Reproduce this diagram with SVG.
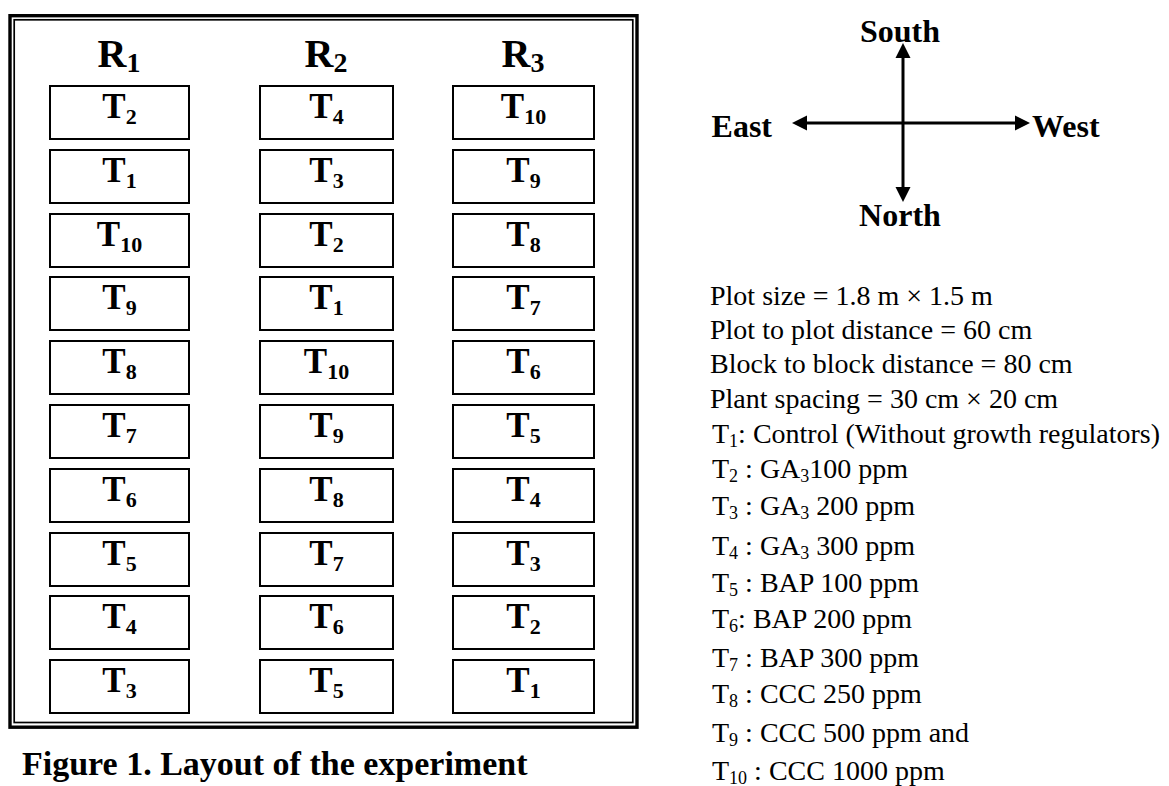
<svg xmlns="http://www.w3.org/2000/svg" width="1169" height="786" viewBox="0 0 1169 786">
<style>
text{font-family:"Liberation Serif","Times New Roman",serif;fill:#000}
.t{font-size:35px;font-weight:bold;text-anchor:middle}
.ts{font-size:22px}
.r{font-size:40px;font-weight:bold;text-anchor:middle}
.rs{font-size:28px}
.box{fill:#fff;stroke:#000;stroke-width:2}
.cap{font-size:34px;font-weight:bold}
.cmp{font-size:32px;font-weight:bold}
.lst{font-size:28px}
.ls{font-size:18px}
.ax{stroke:#000;stroke-width:3;fill:none}
</style>
<defs>
<marker id="ah" markerUnits="userSpaceOnUse" markerWidth="16" markerHeight="16" refX="0" refY="8" orient="auto-start-reverse"><path d="M0,0.5 L15,8 L0,15.5 Z" fill="#000"/></marker>
</defs>
<rect width="1169" height="786" fill="#fff"/>
<g id="frame">
<rect x="10" y="15.7" width="627" height="711.5" fill="none" stroke="#000" stroke-width="3.4"/>
<rect x="14.2" y="19.8" width="618.6" height="702.7" fill="none" stroke="#000" stroke-width="1.7"/>
</g>
<g id="headers">
<text class="r" x="119" y="67">R<tspan class="rs" dy="5">1</tspan></text>
<text class="r" x="326" y="67">R<tspan class="rs" dy="5">2</tspan></text>
<text class="r" x="523" y="67">R<tspan class="rs" dy="5">3</tspan></text>
</g>
<g id="col-R1">
<g id="r1-1"><rect class="box" x="50" y="86" width="139" height="53"/><text class="t" x="119.5" y="118">T<tspan class="ts" dy="6">2</tspan></text></g>
<g id="r1-2"><rect class="box" x="50" y="150" width="139" height="53"/><text class="t" x="119.5" y="182">T<tspan class="ts" dy="6">1</tspan></text></g>
<g id="r1-3"><rect class="box" x="50" y="214" width="139" height="53"/><text class="t" x="119.5" y="246">T<tspan class="ts" dy="6">10</tspan></text></g>
<g id="r1-4"><rect class="box" x="50" y="277" width="139" height="53"/><text class="t" x="119.5" y="309">T<tspan class="ts" dy="6">9</tspan></text></g>
<g id="r1-5"><rect class="box" x="50" y="341" width="139" height="53"/><text class="t" x="119.5" y="373">T<tspan class="ts" dy="6">8</tspan></text></g>
<g id="r1-6"><rect class="box" x="50" y="405" width="139" height="53"/><text class="t" x="119.5" y="437">T<tspan class="ts" dy="6">7</tspan></text></g>
<g id="r1-7"><rect class="box" x="50" y="469" width="139" height="53"/><text class="t" x="119.5" y="501">T<tspan class="ts" dy="6">6</tspan></text></g>
<g id="r1-8"><rect class="box" x="50" y="533" width="139" height="53"/><text class="t" x="119.5" y="565">T<tspan class="ts" dy="6">5</tspan></text></g>
<g id="r1-9"><rect class="box" x="50" y="596" width="139" height="53"/><text class="t" x="119.5" y="628">T<tspan class="ts" dy="6">4</tspan></text></g>
<g id="r1-10"><rect class="box" x="50" y="660" width="139" height="53"/><text class="t" x="119.5" y="692">T<tspan class="ts" dy="6">3</tspan></text></g>
</g>
<g id="col-R2">
<g id="r2-1"><rect class="box" x="260" y="86" width="133" height="53"/><text class="t" x="326.5" y="118">T<tspan class="ts" dy="6">4</tspan></text></g>
<g id="r2-2"><rect class="box" x="260" y="150" width="133" height="53"/><text class="t" x="326.5" y="182">T<tspan class="ts" dy="6">3</tspan></text></g>
<g id="r2-3"><rect class="box" x="260" y="214" width="133" height="53"/><text class="t" x="326.5" y="246">T<tspan class="ts" dy="6">2</tspan></text></g>
<g id="r2-4"><rect class="box" x="260" y="277" width="133" height="53"/><text class="t" x="326.5" y="309">T<tspan class="ts" dy="6">1</tspan></text></g>
<g id="r2-5"><rect class="box" x="260" y="341" width="133" height="53"/><text class="t" x="326.5" y="373">T<tspan class="ts" dy="6">10</tspan></text></g>
<g id="r2-6"><rect class="box" x="260" y="405" width="133" height="53"/><text class="t" x="326.5" y="437">T<tspan class="ts" dy="6">9</tspan></text></g>
<g id="r2-7"><rect class="box" x="260" y="469" width="133" height="53"/><text class="t" x="326.5" y="501">T<tspan class="ts" dy="6">8</tspan></text></g>
<g id="r2-8"><rect class="box" x="260" y="533" width="133" height="53"/><text class="t" x="326.5" y="565">T<tspan class="ts" dy="6">7</tspan></text></g>
<g id="r2-9"><rect class="box" x="260" y="596" width="133" height="53"/><text class="t" x="326.5" y="628">T<tspan class="ts" dy="6">6</tspan></text></g>
<g id="r2-10"><rect class="box" x="260" y="660" width="133" height="53"/><text class="t" x="326.5" y="692">T<tspan class="ts" dy="6">5</tspan></text></g>
</g>
<g id="col-R3">
<g id="r3-1"><rect class="box" x="453" y="86" width="141" height="53"/><text class="t" x="523.5" y="118">T<tspan class="ts" dy="6">10</tspan></text></g>
<g id="r3-2"><rect class="box" x="453" y="150" width="141" height="53"/><text class="t" x="523.5" y="182">T<tspan class="ts" dy="6">9</tspan></text></g>
<g id="r3-3"><rect class="box" x="453" y="214" width="141" height="53"/><text class="t" x="523.5" y="246">T<tspan class="ts" dy="6">8</tspan></text></g>
<g id="r3-4"><rect class="box" x="453" y="277" width="141" height="53"/><text class="t" x="523.5" y="309">T<tspan class="ts" dy="6">7</tspan></text></g>
<g id="r3-5"><rect class="box" x="453" y="341" width="141" height="53"/><text class="t" x="523.5" y="373">T<tspan class="ts" dy="6">6</tspan></text></g>
<g id="r3-6"><rect class="box" x="453" y="405" width="141" height="53"/><text class="t" x="523.5" y="437">T<tspan class="ts" dy="6">5</tspan></text></g>
<g id="r3-7"><rect class="box" x="453" y="469" width="141" height="53"/><text class="t" x="523.5" y="501">T<tspan class="ts" dy="6">4</tspan></text></g>
<g id="r3-8"><rect class="box" x="453" y="533" width="141" height="53"/><text class="t" x="523.5" y="565">T<tspan class="ts" dy="6">3</tspan></text></g>
<g id="r3-9"><rect class="box" x="453" y="596" width="141" height="53"/><text class="t" x="523.5" y="628">T<tspan class="ts" dy="6">2</tspan></text></g>
<g id="r3-10"><rect class="box" x="453" y="660" width="141" height="53"/><text class="t" x="523.5" y="692">T<tspan class="ts" dy="6">1</tspan></text></g>
</g>
<g id="caption">
<text class="cap" x="22" y="775">Figure 1. Layout of the experiment</text>
</g>
<g id="connectors">
<line class="ax" x1="903" y1="58" x2="903" y2="187" marker-start="url(#ah)" marker-end="url(#ah)"/>
<line class="ax" x1="807" y1="123" x2="1015" y2="123" marker-start="url(#ah)" marker-end="url(#ah)"/>
</g>
<g id="south"><text class="cmp" x="900" y="42" text-anchor="middle">South</text></g>
<g id="north"><text class="cmp" x="900" y="226" text-anchor="middle">North</text></g>
<g id="east"><text class="cmp" x="772" y="137" text-anchor="end">East</text></g>
<g id="west"><text class="cmp" x="1032" y="137">West</text></g>
<g id="notes">
<text class="lst" x="710" y="305">Plot size = 1.8 m × 1.5 m</text>
<text class="lst" x="710" y="339">Plot to plot distance = 60 cm</text>
<text class="lst" x="710" y="373">Block to block distance = 80 cm</text>
<text class="lst" x="710" y="408">Plant spacing = 30 cm × 20 cm</text>
<text class="lst" x="712" y="443">T<tspan class="ls" dy="4">1</tspan><tspan dy="-4">: Control (Without growth regulators)</tspan></text>
<text class="lst" x="712" y="478">T<tspan class="ls" dy="4">2</tspan><tspan dy="-4"> : GA</tspan><tspan class="ls" dy="4">3</tspan><tspan dy="-4">100 ppm</tspan></text>
<text class="lst" x="712" y="515">T<tspan class="ls" dy="4">3</tspan><tspan dy="-4"> : GA</tspan><tspan class="ls" dy="4">3</tspan><tspan dy="-4"> 200 ppm</tspan></text>
<text class="lst" x="712" y="555">T<tspan class="ls" dy="4">4</tspan><tspan dy="-4"> : GA</tspan><tspan class="ls" dy="4">3</tspan><tspan dy="-4"> 300 ppm</tspan></text>
<text class="lst" x="712" y="592">T<tspan class="ls" dy="4">5</tspan><tspan dy="-4"> : BAP 100 ppm</tspan></text>
<text class="lst" x="712" y="628">T<tspan class="ls" dy="4">6</tspan><tspan dy="-4">: BAP 200 ppm</tspan></text>
<text class="lst" x="712" y="667">T<tspan class="ls" dy="4">7</tspan><tspan dy="-4"> : BAP 300 ppm</tspan></text>
<text class="lst" x="712" y="703">T<tspan class="ls" dy="4">8</tspan><tspan dy="-4"> : CCC 250 ppm</tspan></text>
<text class="lst" x="712" y="742">T<tspan class="ls" dy="4">9</tspan><tspan dy="-4"> : CCC 500 ppm and</tspan></text>
<text class="lst" x="712" y="780">T<tspan class="ls" dy="4">10</tspan><tspan dy="-4"> : CCC 1000 ppm</tspan></text>
</g>
</svg>
